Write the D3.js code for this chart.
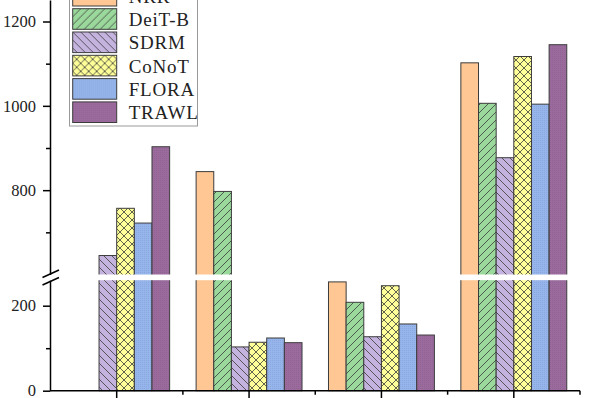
<!DOCTYPE html>
<html>
<head>
<meta charset="utf-8">
<script src="https://cdn.jsdelivr.net/npm/d3@7"></script>
<style>
  html, body { margin: 0; padding: 0; background: #fff; }
  svg { display: block; }
  text { font-family: "Liberation Serif", "Times New Roman", serif; }
</style>
</head>
<body>
<svg id="chart" width="599" height="398"></svg>
<script>
// dados (eixo y quebrado entre 260 e 600)
const categories = ['G1', 'G2', 'G3', 'G4'];
const seriesNames = ['NRR', 'DeiT-B', 'SDRM', 'CoNoT', 'FLORA', 'TRAWL'];
const NRR    = [null, 844, 256, 1102];
const DeiT_B = [null, 797, 208, 1006];
const SDRM   = [645, 103, 127, 877];
const CoNoT  = [757, 114, 247, 1117];
const FLORA  = [722, 124, 157, 1004];
const TRAWL  = [903, 113, 131, 1145];
const seriesValues = [NRR, DeiT_B, SDRM, CoNoT, FLORA, TRAWL];

const upperTicks = [800, 1000, 1200];
const upperMinor = [700, 900, 1100];
const lowerTicks = [0, 200];
const lowerMinor = [100];

// CAPS: constantes
const COLORS = ['#FFC794', '#9AD89C', '#C4B3DF', '#FFFF99', '#95B5EC', '#9C6B9E'];
const PATTERNS = ['none', 'fwd', 'back', 'cross', 'dots', 'dots'];
const BREAK_LO = 260, BREAK_HI = 600;
const P = 8; // tamanho da hachura

const $svg = d3.select('#chart');

const x0 = d3.scaleBand().domain(categories).range([50.5, 580]).paddingInner(0.2).paddingOuter(0.1);
const x1 = d3.scaleBand().domain(seriesNames).range([0, x0.bandwidth()]);

const yUp = d3.scaleLinear().domain([BREAK_HI, 1251]).range([274.5, 0]);
const yLo = d3.scaleLinear().domain([0, BREAK_LO]).range([390.7, 280.2]);
const y = v => v >= BREAK_HI ? yUp(v) : yLo(Math.min(v, BREAK_LO));

// padrões de hachura
const defs = $svg.append('defs');
function addPattern(id, color, kind) {
  const s = kind === 'dots' ? 2 : P;
  const p = defs.append('pattern').attr('id', id)
    .attr('patternUnits', 'userSpaceOnUse').attr('width', s).attr('height', s);
  p.append('rect').attr('width', s).attr('height', s).attr('fill', color);
  const line = d => p.append('path').attr('d', d)
    .attr('stroke', '#3a3a3a').attr('stroke-width', 0.8).attr('fill', 'none');
  if (kind === 'fwd' || kind === 'cross') line(`M-1,1 L1,-1 M0,${s} L${s},0 M${s - 1},${s + 1} L${s + 1},${s - 1}`);
  if (kind === 'back' || kind === 'cross') line(`M-1,${s - 1} L1,${s + 1} M0,0 L${s},${s} M${s - 1},-1 L${s + 1},1`);
  if (kind === 'dots') {
    p.append('rect').attr('width', 1).attr('height', 1).attr('fill', '#000').attr('opacity', 0.07);
  }
}
seriesNames.forEach((s, i) => addPattern('pat' + i, COLORS[i], PATTERNS[i]));
const fillOf = i => PATTERNS[i] === 'none' ? COLORS[i] : `url(#pat${i})`;

// barras
const data = [];
categories.forEach((c, ci) => {
  seriesNames.forEach((s, si) => {
    const v = seriesValues[si][ci];
    if (v != null) data.push({c, s, si, v});
  });
});

$svg.append('g').selectAll('rect')
  .data(data)
  .enter()
  .append('rect')
  .attr('x', d => x0(d.c) + x1(d.s))
  .attr('y', d => y(d.v))
  .attr('width', x1.bandwidth())
  .attr('height', d => y(0) - y(d.v))
  .attr('fill', d => fillOf(d.si))
  .attr('stroke', '#3c3c3c')
  .attr('stroke-width', 1);

// faixa branca da quebra
$svg.append('rect')
  .attr('x', 56).attr('y', yUp(BREAK_HI))
  .attr('width', 543).attr('height', yLo(BREAK_LO) - yUp(BREAK_HI))
  .attr('fill', '#fff');

// eixo y: duas partes
function yAxis(scale, ticks, minor) {
  const g = $svg.append('g').attr('transform', 'translate(50,0)');
  g.call(d3.axisLeft(scale).tickValues(ticks).tickSize(7).tickPadding(7).tickSizeOuter(0).tickFormat(d3.format('d')));
  g.append('g').call(d3.axisLeft(scale).tickValues(minor).tickSize(4).tickFormat(''))
    .select('.domain').remove();
  g.selectAll('path, line').attr('stroke', '#000').attr('stroke-width', 1.5);
  g.selectAll('text').attr('font-size', 16.5).attr('fill', '#222')
    .style('font-family', '"Liberation Serif", serif');
}
yAxis(yUp, upperTicks, upperMinor);
yAxis(yLo, lowerTicks, lowerMinor);

// marcas de quebra
$svg.append('g').selectAll('line')
  .data([0, 7.5])
  .enter()
  .append('line')
  .attr('x1', 42.5).attr('x2', 59)
  .attr('y1', d => 277.5 + d).attr('y2', d => 270 + d)
  .attr('stroke', '#000').attr('stroke-width', 1.5);

// eixo x
const gx = $svg.append('g').attr('transform', `translate(0,${yLo(0)})`);
gx.append('line').attr('x1', 50).attr('x2', 580).attr('stroke', '#000').attr('stroke-width', 1.5);
gx.selectAll('.major')
  .data(categories)
  .enter()
  .append('line')
  .attr('x1', d => x0(d) + x0.bandwidth() / 2).attr('x2', d => x0(d) + x0.bandwidth() / 2)
  .attr('y2', 8).attr('stroke', '#000').attr('stroke-width', 1.5);
gx.selectAll('.minor')
  .data(categories)
  .enter()
  .append('line')
  .attr('x1', d => x0(d) + x0.bandwidth() / 2 + x0.step() / 2)
  .attr('x2', d => x0(d) + x0.bandwidth() / 2 + x0.step() / 2)
  .attr('y2', 4).attr('stroke', '#000').attr('stroke-width', 1.5);

// legenda
const LEG_X = 69.5, LEG_TOP = -14.6, LEG_STEP = 23.3;
$svg.append('rect')
  .attr('x', LEG_X).attr('y', -20).attr('width', 128).attr('height', 146)
  .attr('fill', '#fff').attr('stroke', '#9a9a9a').attr('stroke-width', 1);
const $leg = $svg.append('g').selectAll('g')
  .data(seriesNames)
  .enter()
  .append('g')
  .attr('transform', (d, i) => `translate(${LEG_X + 3.2},${LEG_TOP + i * LEG_STEP})`);
$leg.append('rect')
  .attr('width', 44).attr('height', 20.6)
  .attr('fill', (d, i) => fillOf(i))
  .attr('stroke', '#3c3c3c').attr('stroke-width', 1);
$leg.append('text')
  .attr('x', 56).attr('y', 17.3)
  .attr('font-size', 19).attr('fill', '#222')
  .attr('letter-spacing', 0.8)
  .text(d => d);
</script>
</body>
</html>
